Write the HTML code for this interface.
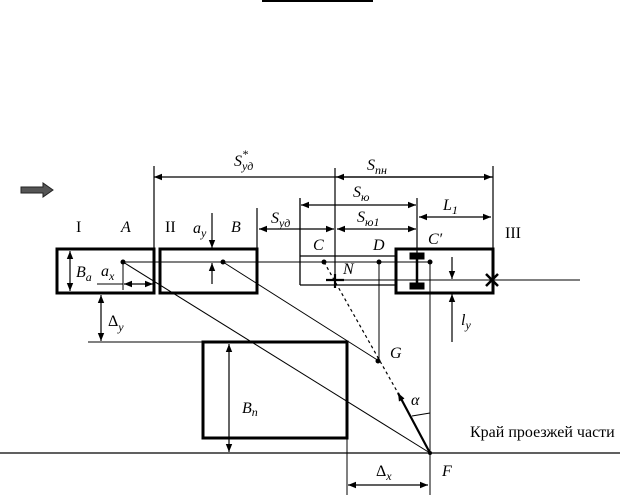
<!DOCTYPE html>
<html><head><meta charset="utf-8"><style>body{margin:0;background:#fff}svg{display:block}text{font-family:"Liberation Serif",serif;fill:#000}</style></head><body>
<svg width="636" height="504" viewBox="0 0 636 504" xmlns="http://www.w3.org/2000/svg">
<defs>
<marker id="a" viewBox="0 0 10 10" refX="10" refY="5" markerWidth="8" markerHeight="8" markerUnits="userSpaceOnUse" orient="auto-start-reverse"><path d="M0,1L10,5L0,9z"/></marker>
</defs>
<line x1="262" y1="1" x2="373" y2="1" stroke="#000" stroke-width="2"/>
<g stroke="#000" fill="none">
<path d="M21,187h22v-4l10,7l-10,7v-4h-22z" fill="#555" stroke="#222" stroke-width="1"/>
<rect x="57" y="249" width="97" height="44" stroke-width="3"/>
<rect x="160" y="249" width="97" height="44" stroke-width="3"/>
<rect x="396" y="249" width="97" height="44" stroke-width="3"/>
<rect x="203" y="342" width="144" height="96" stroke-width="3"/>
<path d="M300,256H396M300,285H396M300,198V285" stroke-width="1.3"/>
<line x1="123" y1="262" x2="430" y2="262" stroke-width="1"/>
<line x1="335" y1="280" x2="580" y2="280" stroke-width="1"/>
<line x1="0" y1="453" x2="620" y2="453" stroke-width="1.2"/>
<line x1="88" y1="342" x2="203" y2="342" stroke-width="1"/>
<line x1="154" y1="166" x2="154" y2="249" stroke-width="1.2"/>
<line x1="257" y1="208" x2="257" y2="249" stroke-width="1.2"/>
<line x1="335" y1="168" x2="335" y2="285" stroke-width="1.2"/>
<line x1="493" y1="166" x2="493" y2="249" stroke-width="1.2"/>
<line x1="417" y1="198" x2="417" y2="256" stroke-width="1.2"/>
<line x1="379" y1="262" x2="379" y2="361" stroke-width="1"/>
<line x1="430" y1="262" x2="430" y2="495" stroke-width="1"/>
<line x1="347" y1="438" x2="347" y2="495" stroke-width="1"/>
<line x1="493" y1="177" x2="154" y2="177" stroke-width="1.2" marker-end="url(#a)"/>
<line x1="336" y1="177" x2="492" y2="177" stroke-width="1.2" marker-start="url(#a)" marker-end="url(#a)"/>
<line x1="301" y1="205" x2="416" y2="205" stroke-width="1.2" marker-start="url(#a)" marker-end="url(#a)"/>
<line x1="419" y1="217" x2="491" y2="217" stroke-width="1.2" marker-start="url(#a)" marker-end="url(#a)"/>
<line x1="259" y1="229" x2="334" y2="229" stroke-width="1.2" marker-start="url(#a)" marker-end="url(#a)"/>
<line x1="337" y1="229" x2="416" y2="229" stroke-width="1.2" marker-start="url(#a)" marker-end="url(#a)"/>
<line x1="70" y1="251" x2="70" y2="291" stroke-width="1.2" marker-start="url(#a)" marker-end="url(#a)"/>
<line x1="123" y1="262" x2="123" y2="290" stroke-width="1"/>
<line x1="97" y1="284" x2="123" y2="284" stroke-width="1"/>
<line x1="124" y1="284" x2="153" y2="284" stroke-width="1.2" marker-start="url(#a)" marker-end="url(#a)"/>
<line x1="101" y1="295" x2="101" y2="341" stroke-width="1.2" marker-start="url(#a)" marker-end="url(#a)"/>
<line x1="212" y1="213" x2="212" y2="248" stroke-width="1.2" marker-end="url(#a)"/>
<line x1="212" y1="284" x2="212" y2="263" stroke-width="1.2" marker-end="url(#a)"/>
<line x1="452" y1="257" x2="452" y2="279" stroke-width="1.2" marker-end="url(#a)"/>
<line x1="452" y1="342" x2="452" y2="294" stroke-width="1.2" marker-end="url(#a)"/>
<line x1="229" y1="344" x2="229" y2="452" stroke-width="1.2" marker-start="url(#a)" marker-end="url(#a)"/>
<line x1="348" y1="485" x2="428" y2="485" stroke-width="1.2" marker-start="url(#a)" marker-end="url(#a)"/>
<line x1="123" y1="262" x2="430" y2="453" stroke-width="1"/>
<line x1="223" y1="262" x2="379" y2="361" stroke-width="1"/>
<line x1="324" y1="262" x2="398" y2="393" stroke-width="1.2" stroke-dasharray="3,3"/>
<line x1="430" y1="453" x2="398" y2="393" stroke-width="2.2" marker-end="url(#a)"/>
<path d="M412,416 L430,413" stroke-width="1"/>
<rect x="410" y="253" width="14" height="6" fill="#000"/>
<rect x="410" y="283" width="14" height="6" fill="#000"/>
<line x1="417" y1="256" x2="417" y2="286" stroke-width="2.5"/>
<path d="M326,280H344M335,274V288" stroke-width="2.2"/>
<path d="M486,274L498,286M498,274L486,286" stroke-width="2.5"/>
</g>
<g fill="#000">
<circle cx="123" cy="262" r="2.5"/><circle cx="223" cy="262" r="2.5"/>
<circle cx="324" cy="262" r="2.5"/><circle cx="379" cy="262" r="2.5"/>
<circle cx="430" cy="262" r="2.5"/><circle cx="378" cy="361" r="2.5"/>
<circle cx="430" cy="453" r="2"/>
</g>
<g font-size="16">
<text x="76" y="232">I</text>
<text x="121" y="232" font-style="italic">A</text>
<text x="165" y="232">II</text>
<text x="193" y="233" font-style="italic">a<tspan font-size="12" dy="4">y</tspan></text>
<text x="231" y="232" font-style="italic">B</text>
<text x="76" y="277" font-style="italic">B<tspan font-size="12" dy="4">a</tspan></text>
<text x="101" y="276" font-style="italic">a<tspan font-size="12" dy="4">x</tspan></text>
<text x="108" y="326">Δ<tspan font-size="12" dy="5" font-style="italic">y</tspan></text>
<text x="234" y="166" font-style="italic">S<tspan font-size="12" dy="-8">*</tspan><tspan font-size="12" dx="-6" dy="12">уд</tspan></text>
<text x="271" y="223" font-style="italic">S<tspan font-size="12" dy="4">уд</tspan></text>
<text x="367" y="170" font-style="italic">S<tspan font-size="12" dy="4">пн</tspan></text>
<text x="353" y="197" font-style="italic">S<tspan font-size="12" dy="4">ю</tspan></text>
<text x="357" y="222" font-style="italic">S<tspan font-size="12" dy="4">ю1</tspan></text>
<text x="443" y="210" font-style="italic">L<tspan font-size="12" dy="4">1</tspan></text>
<text x="313" y="250" font-style="italic">C</text>
<text x="373" y="250" font-style="italic">D</text>
<text x="428" y="244" font-style="italic">C′</text>
<text x="505" y="238">III</text>
<text x="343" y="274" font-style="italic">N</text>
<text x="461" y="325" font-style="italic">l<tspan font-size="12" dy="4">y</tspan></text>
<text x="390" y="358" font-style="italic">G</text>
<text x="242" y="413" font-style="italic">B<tspan font-size="12" dy="3">n</tspan></text>
<text x="411" y="405" font-style="italic">α</text>
<text x="470" y="437">Край проезжей части</text>
<text x="376" y="476">Δ<tspan font-size="12" dy="4" font-style="italic">x</tspan></text>
<text x="442" y="476" font-style="italic">F</text>
</g>
</svg>
</body></html>
